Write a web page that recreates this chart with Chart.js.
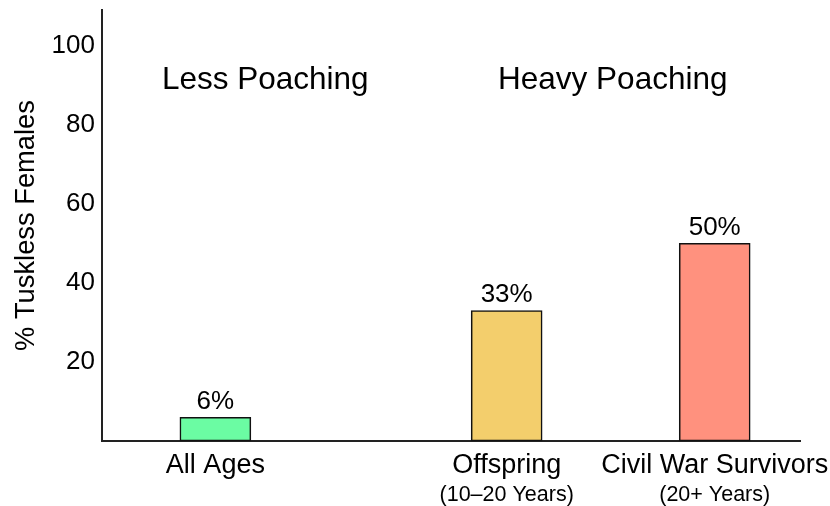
<!DOCTYPE html>
<html>
<head>
<meta charset="utf-8">
<script src="https://cdn.jsdelivr.net/npm/chart.js@4/dist/chart.umd.min.js"></script>
<style>
html,body{margin:0;padding:0;background:#fff;}
#wrap{width:830px;height:506px;position:relative;}
</style>
</head>
<body>
<div id="wrap"><canvas id="c" width="830" height="506"></canvas></div>
<script>
// ---- data ----
const categories = ["All Ages", "Offspring", "Civil War Survivors"];
const subLabels = ["", "(10\u201320 Years)", "(20+ Years)"];
const xPositions = [0, 1.4, 2.4];
const values = [6, 33, 50];
const valueLabels = ["6%", "33%", "50%"];
const barColors = ["#6BFCA3", "#F3CE6C", "#FF917E"];
const yTicks = [20, 40, 60, 80, 100];
const groupLabels = ["Less Poaching", "Heavy Poaching"];
const groupX = [0.24, 1.91];
const groupY = [89, 89];
const yTitle = "% Tuskless Females";

const FONT = "'Liberation Sans', Arial, sans-serif";

const textPlugin = {
  id: 'texts',
  afterDatasetsDraw(chart) {
    const ctx = chart.ctx;
    const xs = chart.scales.x, ys = chart.scales.y;
    ctx.save();
    ctx.fillStyle = '#000';
    ctx.textAlign = 'center';
    ctx.textBaseline = 'alphabetic';
    ctx.font = '26px ' + FONT;
    values.forEach((v, i) => {
      ctx.fillText(valueLabels[i], xs.getPixelForValue(xPositions[i]), ys.getPixelForValue(v) - 8.5);
    });
    categories.forEach((c, i) => {
      const px = xs.getPixelForValue(xPositions[i]);
      ctx.font = '27px ' + FONT;
      ctx.fillText(c, px, 472.5);
      if (subLabels[i]) {
        ctx.font = '21.5px ' + FONT;
        ctx.fillText(subLabels[i], px, 501);
      }
    });
    ctx.font = '31.5px ' + FONT;
    groupLabels.forEach((g, i) => {
      ctx.fillText(g, xs.getPixelForValue(groupX[i]), ys.getPixelForValue(groupY[i]));
    });
    ctx.font = '27.3px ' + FONT;
    ctx.translate(34, (chart.chartArea.top + chart.chartArea.bottom) / 2);
    ctx.rotate(-Math.PI / 2);
    ctx.fillText(yTitle, 0, 0);
    ctx.restore();
  }
};

new Chart(document.getElementById('c'), {
  type: 'bar',
  data: {
    datasets: [{
      data: xPositions.map((x, i) => ({ x: x, y: values[i] })),
      backgroundColor: barColors,
      borderColor: '#111',
      borderWidth: 1.6,
      borderSkipped: false,
      barThickness: 71
    }]
  },
  options: {
    responsive: false,
    animation: false,
    events: [],
    layout: { padding: { top: 10, right: 30, left: 0, bottom: 0 } },
    plugins: { legend: { display: false }, tooltip: { enabled: false }, title: { display: false } },
    scales: {
      x: {
        type: 'linear',
        offset: false,
        min: -0.545,
        max: 2.81,
        grid: { display: false, drawTicks: false },
        border: { display: true, color: '#222', width: 2 },
        ticks: { display: false },
        afterFit(s) { s.height = 65; s.paddingLeft = 0; s.paddingRight = 0; }
      },
      y: {
        min: 0,
        max: 109,
        grid: { display: false, drawTicks: false },
        border: { display: true, color: '#222', width: 2 },
        ticks: { color: '#000', font: { family: FONT, size: 26 }, padding: 7 },
        afterBuildTicks(s) { s.ticks = yTicks.map(v => ({ value: v })); },
        afterFit(s) { s.width = 102; s.paddingTop = 0; s.paddingBottom = 0; }
      }
    }
  },
  plugins: [textPlugin]
});
</script>
</body>
</html>
